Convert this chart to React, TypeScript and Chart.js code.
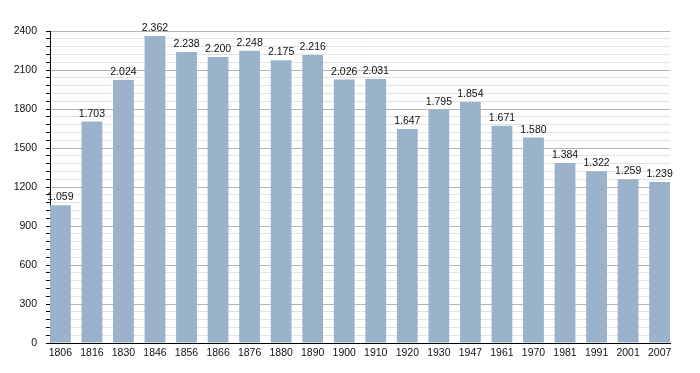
import React, { useEffect, useRef } from "react";
import { Chart, registerables } from "chart.js";

Chart.register(...registerables);

const years = ["1806","1816","1830","1846","1856","1866","1876","1880","1890","1900","1910","1920","1930","1947","1961","1970","1981","1991","2001","2007"];
const population = [1059,1703,2024,2362,2238,2200,2248,2175,2216,2026,2031,1647,1795,1854,1671,1580,1384,1322,1259,1239];
const yMax = 2400;
const majorStep = 300;
const minorStep = 60;

const fmt = (v: number) => {
  const s = String(v);
  return s.length > 3 ? s.slice(0, s.length - 3) + "." + s.slice(-3) : s;
};

const labelPlugin = {
  id: "valueLabels",
  afterDatasetsDraw(chart: any) {
    const ctx = chart.ctx;
    const meta = chart.getDatasetMeta(0);
    ctx.save();
    ctx.font = "10.5px 'Liberation Sans', Arial, sans-serif";
    ctx.fillStyle = "#111";
    ctx.textAlign = "center";
    ctx.textBaseline = "alphabetic";
    meta.data.forEach((el: any, i: number) => {
      ctx.fillText(fmt(population[i]), el.x, el.y - 5);
    });
    ctx.restore();
  },
};

export default function App() {
  const ref = useRef<HTMLCanvasElement>(null);
  useEffect(() => {
    document.body.style.margin = "0";
    const pad = 0.328;
    const font = { family: "'Liberation Sans', Arial, sans-serif", size: 10.5 };
    const chart = new Chart(ref.current!, {
      type: "bar",
      data: {
        datasets: [
          {
            data: population.map((v, i) => ({ x: i, y: v })),
            backgroundColor: "#9bb2cb",
            barPercentage: 0.66,
            categoryPercentage: 1,
          },
        ],
      },
      options: {
        responsive: false,
        animation: false,
        layout: { padding: { top: 31, right: 30, left: 0, bottom: 0 } },
        plugins: { legend: { display: false }, tooltip: { enabled: false } },
        scales: {
          x: {
            type: "linear",
            offset: false,
            min: -pad,
            max: years.length - 1 + pad,
            grid: { display: false, drawTicks: false, offset: false },
            border: { color: "#000", width: 1 },
            ticks: {
              stepSize: 1,
              includeBounds: false,
              autoSkip: false,
              maxRotation: 0,
              padding: 4,
              color: "#111",
              font,
              callback: (v: any) => (Number.isInteger(v) ? years[v] : ""),
            },
            afterFit: (s: any) => { s.height = 30; },
          },
          y: {
            min: 0,
            max: yMax,
            grid: {
              color: (c: any) => (c.tick && c.tick.value % majorStep === 0 ? "#b4b4b4" : "#e2e2e2"),
              tickColor: "#000",
              tickLength: 4,
              drawTicks: true,
            },
            border: { color: "#000", width: 1 },
            ticks: {
              stepSize: minorStep,
              autoSkip: false,
              padding: 9,
              color: "#111",
              font,
              callback: (v: any) => (v % majorStep === 0 ? String(v) : ""),
            },
            afterFit: (s: any) => { s.width = 50; },
          },
        },
      },
      plugins: [labelPlugin],
    } as any);
    return () => chart.destroy();
  }, []);
  return (
    <div style={{ position: "absolute", left: 0, top: 0, width: 700, height: 373, background: "#fff" }}>
      <canvas ref={ref} width={700} height={373} />
    </div>
  );
}
